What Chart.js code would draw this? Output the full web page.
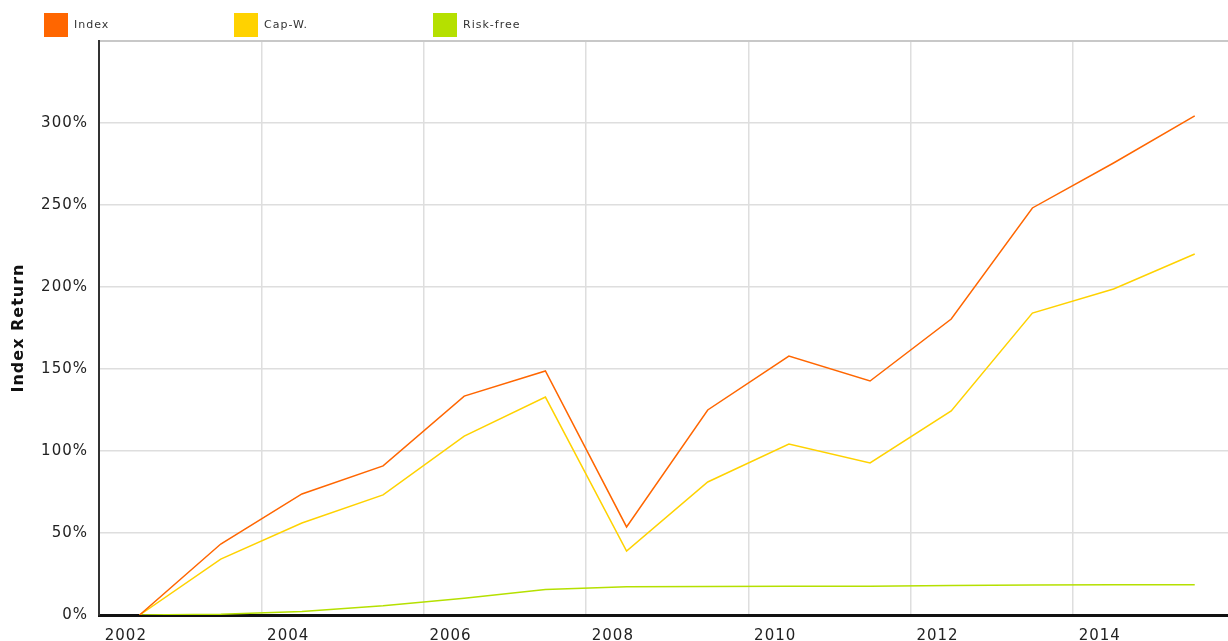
<!DOCTYPE html>
<html>
<head>
<meta charset="utf-8">
<script src="https://cdn.jsdelivr.net/npm/chart.js@4/dist/chart.umd.min.js"></script>
<style>
  html, body { margin: 0; padding: 0; background: #fff; }
  #wrap { position: relative; width: 1228px; height: 641px; }
  #legend { position: absolute; top: 13px; left: 0; height: 24px; width: 1228px; font-family: "DejaVu Sans", sans-serif; font-size: 11px; letter-spacing: 1px; color: #333; }
  .item { position: absolute; top: 0; height: 24px; line-height: 24px; }
  .box { display: inline-block; width: 24px; height: 24px; vertical-align: top; margin-right: 6px; }
</style>
</head>
<body>
<div id="wrap">
  <canvas id="c" width="1228" height="641"></canvas>
  <div id="legend"></div>
</div>
<script>
const years = [2002.5, 2003.5, 2004.5, 2005.5, 2006.5, 2007.5, 2008.5, 2009.5, 2010.5, 2011.5, 2012.5, 2013.5, 2014.5, 2015.5];
const indexReturn = [0, 43.3, 73.8, 90.9, 133.5, 148.8, 53.7, 125, 157.9, 142.7, 180.5, 248.2, 275.6, 304.3];
const capWeighted = [0, 34.1, 56.1, 73.2, 109.1, 132.9, 39, 81.1, 104.3, 92.7, 124.4, 184.1, 198.8, 220.1];
const riskFree = [0, 0.5, 2.2, 5.6, 10.2, 15.6, 17.3, 17.4, 17.5, 17.5, 18, 18.3, 18.4, 18.5];
const seriesNames = ["Index", "Cap-W.", "Risk-free"];
const seriesColors = ["#FF6600", "#FFD200", "#B5E000"];
const xTickYears = [2002, 2004, 2006, 2008, 2010, 2012, 2014];

const legendLefts = [44, 234, 433];
const legend = document.getElementById('legend');
seriesNames.forEach((n, i) => {
  const d = document.createElement('div');
  d.className = 'item';
  d.style.left = legendLefts[i] + 'px';
  d.innerHTML = '<span class="box" style="background:' + seriesColors[i] + '"></span>' + n;
  legend.appendChild(d);
});

const toPts = arr => arr.map((v, i) => ({ x: years[i], y: v }));
const allSeries = [indexReturn, capWeighted, riskFree];

const spacing = {
  id: 'spacing',
  beforeInit(chart) { chart.ctx.letterSpacing = '1px'; },
  beforeDraw(chart) { chart.ctx.letterSpacing = '1px'; }
};

new Chart(document.getElementById('c'), {
  type: 'line',
  data: {
    datasets: allSeries.map((arr, i) => ({
      label: seriesNames[i],
      data: toPts(arr),
      borderColor: seriesColors[i],
      backgroundColor: seriesColors[i],
      borderWidth: 1.5,
      pointRadius: 0,
      tension: 0,
      fill: false
    }))
  },
  options: {
    responsive: false,
    animation: false,
    layout: { padding: { top: 41, left: 0, right: 0, bottom: 0 } },
    plugins: { legend: { display: false }, tooltip: { enabled: false } },
    scales: {
      x: {
        type: 'linear',
        min: 2002,
        max: 2015.91,
        afterBuildTicks(scale) { scale.ticks = xTickYears.map(v => ({ value: v })); },
        afterFit(scale) { scale.height = 26; },
        grid: { color: '#dedede', lineWidth: 1.5, drawTicks: false },
        border: { color: '#111', width: 3 },
        ticks: {
          align: 'start',
          padding: 12,
          maxRotation: 0,
          autoSkip: false,
          color: '#222',
          font: { family: 'DejaVu Sans', size: 15 },
          callback: v => ' ' + String(v)
        }
      },
      y: {
        min: 0,
        max: 350,
        afterFit(scale) { scale.width = 99; },
        grid: {
          color: ctx => (ctx.tick && ctx.tick.value === 350 ? '#c8c8c8' : '#dedede'),
          lineWidth: ctx => (ctx.tick && ctx.tick.value === 350 ? 2 : 1.5),
          drawTicks: false
        },
        border: { color: '#333', width: 2 },
        ticks: {
          stepSize: 50,
          padding: 11,
          color: '#222',
          font: { family: 'DejaVu Sans', size: 15 },
          callback: v => (v === 350 ? '' : v + '%')
        },
        title: {
          display: true,
          text: 'Index Return',
          color: '#111',
          font: { family: 'DejaVu Sans', size: 16, weight: 'bold' },
          padding: { top: 9, bottom: 0 }
        }
      }
    }
  },
  plugins: [spacing]
});
</script>
</body>
</html>
